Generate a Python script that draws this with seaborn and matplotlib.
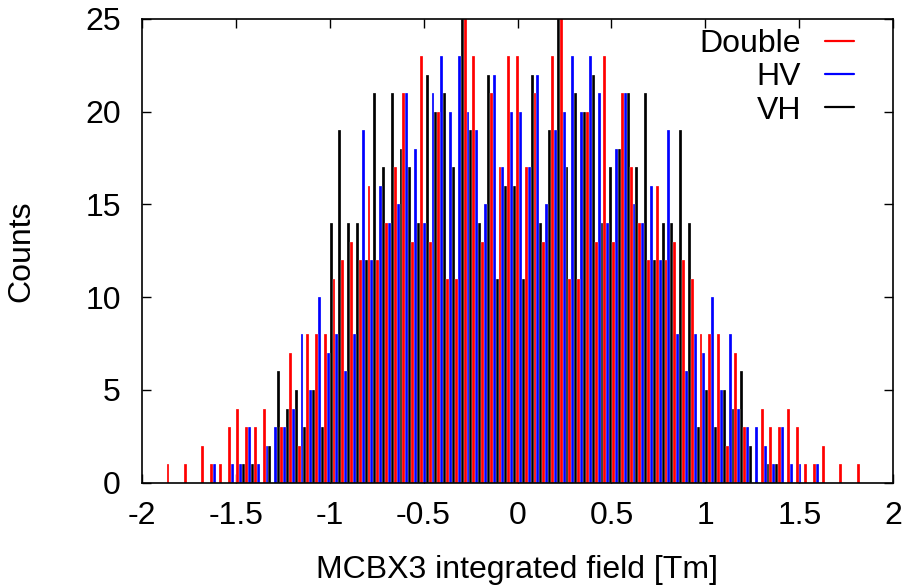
import matplotlib
matplotlib.use("Agg")
import matplotlib.pyplot as plt
import matplotlib.ticker as mticker
from matplotlib.lines import Line2D
import numpy as np
import pandas as pd
import seaborn as sns

# histogram of the MCBX3 integrated field, 80 bins, three configurations
BIN_WIDTH = 0.0465
N_BINS = 80

double_counts = [
    1, 0, 1, 0, 2, 1, 1, 3, 4, 3, 3, 4, 0, 3, 7, 2, 8, 8, 8, 11,
    12, 13, 12, 16, 12, 14, 17, 21, 13, 23, 13, 20, 11, 11, 25, 23, 13, 21, 17, 23,
    23, 17, 21, 13, 23, 25, 11, 11, 20, 13, 23, 13, 21, 17, 14, 12, 16, 12, 13, 12,
    11, 8, 8, 8, 2, 7, 3, 0, 4, 3, 3, 4, 3, 1, 1, 2, 0, 1, 0, 1,
]
hv_counts = [
    0, 0, 0, 0, 0, 1, 0, 1, 1, 3, 1, 2, 3, 3, 4, 8, 5, 10, 7, 8,
    6, 8, 19, 12, 16, 14, 15, 21, 18, 14, 21, 23, 20, 23, 20, 19, 15, 22, 17, 20,
    20, 17, 22, 15, 19, 20, 23, 20, 23, 21, 14, 18, 21, 15, 14, 16, 12, 19, 8, 6,
    8, 7, 10, 5, 8, 4, 3, 3, 2, 1, 3, 1, 1, 0, 1, 0, 0, 0, 0, 0,
]
vh_counts = [
    0, 0, 0, 0, 0, 0, 0, 0, 1, 1, 0, 2, 6, 4, 5, 3, 5, 3, 14, 19,
    14, 14, 12, 21, 17, 21, 18, 17, 14, 22, 20, 21, 17, 25, 19, 14, 22, 11, 16, 16,
    11, 22, 14, 19, 25, 17, 21, 20, 22, 14, 17, 18, 21, 17, 21, 12, 14, 14, 19, 14,
    3, 5, 3, 5, 4, 6, 2, 0, 1, 1, 0, 0, 0, 0, 0, 0, 0, 0, 0, 0,
]

series_names = ["Double", "HV", "VH"]
series_colors = ["#ff0000", "#0000ff", "#000000"]

bin_centers = (np.arange(N_BINS) - 40) * BIN_WIDTH + BIN_WIDTH / 3
bin_edges = list(np.append(bin_centers - BIN_WIDTH / 2, bin_centers[-1] + BIN_WIDTH / 2))

df = pd.concat([
    pd.DataFrame({"field": bin_centers, "counts": counts, "series": name})
    for name, counts in zip(series_names, [double_counts, hv_counts, vh_counts])
], ignore_index=True)

sns.set_style("ticks")
plt.rcParams["font.family"] = ["Liberation Sans", "DejaVu Sans"]
plt.rcParams["axes.unicode_minus"] = False
for key in ["text.color", "axes.labelcolor", "xtick.color", "ytick.color", "axes.edgecolor"]:
    plt.rcParams[key] = "black"

FS = 23

fig, ax = plt.subplots(figsize=(9.14, 5.87), dpi=100)
fig.subplots_adjust(left=141.7 / 914, right=893.3 / 914,
                    bottom=1 - 482.7 / 587, top=1 - 19 / 587)

sns.histplot(
    data=df, x="field", weights="counts", hue="series",
    hue_order=series_names, palette=series_colors,
    bins=bin_edges, multiple="dodge", shrink=1,
    element="bars", alpha=1, edgecolor="white", linewidth=0.2,
    legend=False, ax=ax,
)

ax.set_xlim(-2, 2)
ax.set_ylim(0, 25)
ax.set_xticks(np.arange(-2, 2.01, 0.5))
ax.set_yticks(np.arange(0, 26, 5))
ax.xaxis.set_major_formatter(mticker.FuncFormatter(lambda v, p: f"{v:g}"))
ax.tick_params(direction="in", length=6.5, width=1, top=True, right=True,
               labelsize=FS)
ax.tick_params(axis="x", pad=13)
ax.tick_params(axis="y", pad=15)
for sp in ax.spines.values():
    sp.set_linewidth(1.2)
    sp.set_visible(True)

ax.set_xlabel("MCBX3 integrated field [Tm]", fontsize=FS)
ax.set_ylabel("Counts", fontsize=FS)
ax.xaxis.set_label_coords(0.5, -0.155)
ax.xaxis.label.set_va("top")
ax.yaxis.set_label_coords(-0.1597, 0.5)
ax.yaxis.label.set_va("center")

handles = [Line2D([0], [0], color=c, lw=1.6) for c in series_colors]
ax.legend(handles, series_names, loc="upper right",
          bbox_to_anchor=(0.9477, 0.978), frameon=False,
          fontsize=FS, markerfirst=False, handlelength=0.9,
          handletextpad=0.75, labelspacing=0.1,
          borderpad=0, borderaxespad=0)

fig.savefig("out.png", dpi=100)
